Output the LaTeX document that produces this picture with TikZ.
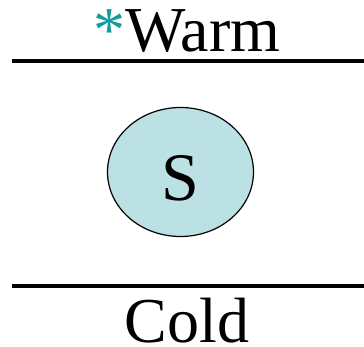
\documentclass[tikz,border=0pt]{standalone}
\usepackage{fontspec}
\setmainfont{Liberation Serif}
\usepackage{xcolor}
\usetikzlibrary{shapes.geometric}

\definecolor{startealc}{RGB}{18,156,156}
\definecolor{sysblue}{RGB}{188,225,228}

\tikzset{
    wall/.style={line width=4pt},
    bigtext/.style={inner sep=0pt, anchor=base, font=\fontsize{64}{64}\selectfont},
}

\begin{document}
\begin{tikzpicture}[x=1pt, y=-1pt]
    \useasboundingbox (0,0) rectangle (364,347);

    \coordinate (TL) at (12,61);
    \coordinate (TR) at (364,61);
    \coordinate (BL) at (12,286);
    \coordinate (BR) at (364,286);

    \draw [wall] (TL) -- (TR);
    \draw [wall] (BL) -- (BR);

    \node[ellipse, draw, line width=1.2pt, fill=sysblue,
          minimum width=146pt, minimum height=129pt, inner sep=0pt]
          (sys) at (180.5,172) {};

    \node[bigtext, font=\fontsize{68}{68}\selectfont] (slabel) at (180.5,201) {S};
    \node[bigtext] (warm) at (187,52) {{\color{startealc}*}Warm};
    \node[bigtext, text depth=0pt] (cold) at (187,342) {Cold};
\end{tikzpicture}
\end{document}
